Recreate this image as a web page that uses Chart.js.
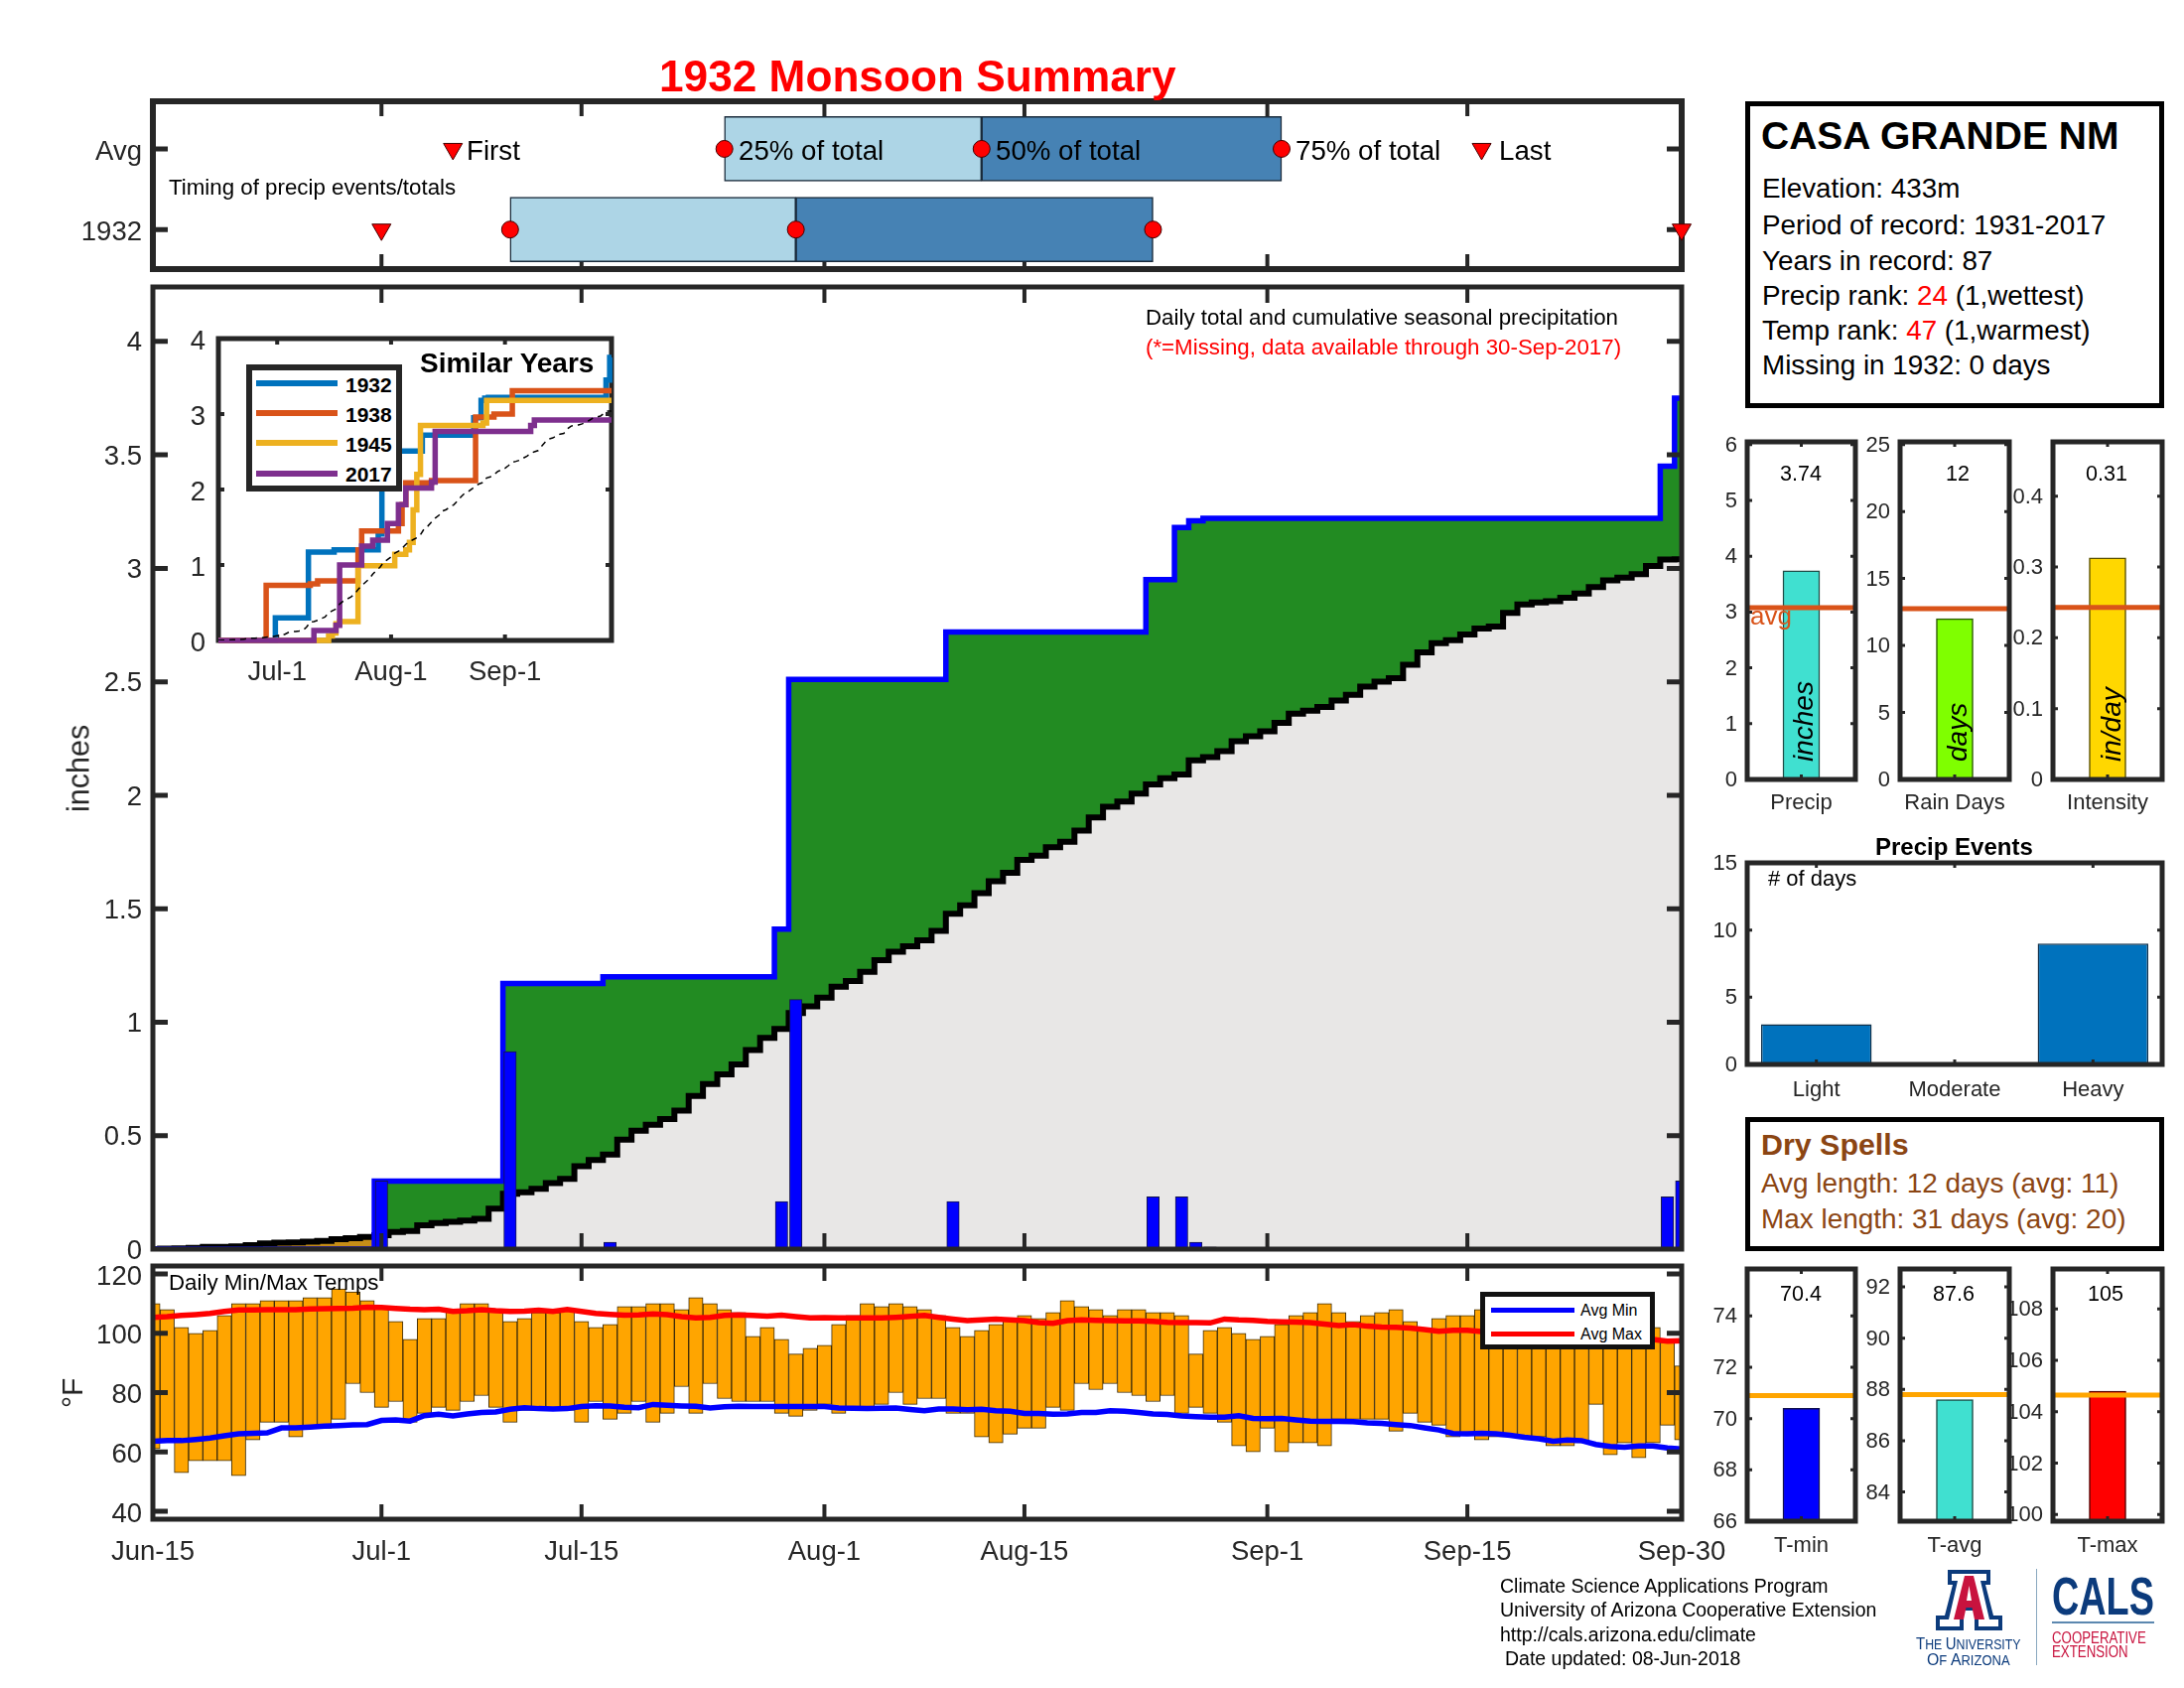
<!DOCTYPE html>
<html lang="en">
<head>
<meta charset="utf-8">
<title>1932 Monsoon Summary</title>
<script src="https://cdn.jsdelivr.net/npm/chart.js@4"></script>
<style>
  body { margin: 0; background: #fff; width: 2200px; height: 1700px; position: relative; overflow: hidden; font-family: "Liberation Sans", Arial, sans-serif; }
  canvas { position: absolute; }
  .txt { position: absolute; white-space: nowrap; transform: translateY(-50%); color: #000; }
  .frame { position: absolute; box-sizing: border-box; background: #fff; border: 5px solid #000; }
  .key { position: absolute; }
</style>
</head>
<body>
<script>
// day numbers count from Jun-15 = 0 to Sep-30 = 107
const tickDays = [0, 16, 30, 47, 61, 78, 92, 107];
const tickLabels = ['Jun-15', 'Jul-1', 'Jul-15', 'Aug-1', 'Aug-15', 'Sep-1', 'Sep-15', 'Sep-30'];

const rainDays = [16, 25, 32, 44, 45, 56, 70, 72, 73, 74, 106, 107];
const rainInches = [0.30, 0.87, 0.03, 0.21, 1.10, 0.21, 0.23, 0.23, 0.03, 0.01, 0.23, 0.30];

const avgCumulative = [0, 0.002, 0.003, 0.005, 0.01, 0.01, 0.012, 0.018, 0.025, 0.028, 0.03, 0.033, 0.036, 0.044, 0.048, 0.054,
  0.061, 0.076, 0.08, 0.105, 0.115, 0.12, 0.126, 0.134, 0.178, 0.244, 0.25, 0.266, 0.291, 0.31, 0.365, 0.393,
  0.417, 0.482, 0.522, 0.548, 0.573, 0.61, 0.675, 0.727, 0.77, 0.814, 0.877, 0.931, 0.97, 1.04, 1.07, 1.108,
  1.156, 1.181, 1.222, 1.273, 1.31, 1.335, 1.361, 1.402, 1.478, 1.515, 1.569, 1.621, 1.658, 1.715, 1.734, 1.771,
  1.795, 1.844, 1.902, 1.949, 1.972, 2.007, 2.048, 2.075, 2.092, 2.154, 2.168, 2.194, 2.238, 2.26, 2.282, 2.319,
  2.36, 2.373, 2.389, 2.417, 2.443, 2.479, 2.501, 2.516, 2.575, 2.63, 2.67, 2.683, 2.709, 2.735, 2.743, 2.804,
  2.841, 2.85, 2.855, 2.87, 2.889, 2.918, 2.947, 2.959, 2.974, 3.01, 3.039, 3.04];

const dailyMax = [110, 108, 102, 100, 101, 106, 110, 110, 111, 111, 111, 112, 112, 115, 114, 111, 109, 104, 98, 105, 105, 108,
  110, 110, 108, 104, 105, 107, 107, 108, 104, 102, 103, 109, 109, 110, 110, 108, 112, 110, 108, 107, 99, 102, 98, 93, 95, 96,
  103, 106, 110, 109, 110, 109, 108, 106, 102, 99, 101, 103, 105, 106, 105, 107, 111, 109, 108, 106, 108, 108, 107, 107, 106,
  93, 101, 102, 100, 98, 99, 103, 106, 107, 110, 107, 104, 106, 107, 108, 104, 101, 105, 106, 106, 108, 109, 105, 103, 104,
  102, 101, 100, 100, 99, 99, 101, 102, 97, 89];
const dailyMin = [61, 64, 53, 57, 57, 57, 52, 64, 70, 70, 65, 68, 68, 71, 83, 80, 75, 77, 70, 73, 75, 74, 77, 79, 75, 70, 74,
  74, 74, 74, 70, 77, 71, 73, 77, 70, 73, 82, 73, 83, 78, 77, 77, 77, 73, 72, 74, 76, 73, 75, 75, 76, 80, 76, 78, 78, 73, 73,
  65, 63, 66, 68, 68, 75, 74, 83, 81, 83, 80, 79, 77, 79, 73, 75, 73, 70, 62, 60, 68, 60, 63, 63, 62, 71, 71, 71, 71, 67, 73,
  70, 69, 65, 66, 64, 65, 65, 65, 65, 62, 62, 63, 76, 59, 63, 58, 63, 69, 64];
const avgMax = [105.4, 105.6, 106.0, 106.3, 106.7, 107.4, 107.9, 107.9, 108.0, 108.0, 108.0, 108.2, 108.3, 108.4, 108.5, 108.8,
  108.7, 108.4, 108.1, 108.0, 108.1, 107.4, 107.6, 108.0, 107.6, 107.4, 107.5, 107.8, 107.4, 108.0, 107.4, 106.7, 106.4, 106.1,
  106.2, 106.5, 106.3, 105.6, 105.2, 105.4, 106.0, 106.2, 106.0, 105.8, 106.1, 105.6, 105.2, 105.3, 105.2, 105.2, 105.2, 105.2,
  105.4, 105.7, 106.0, 105.4, 104.8, 104.3, 104.5, 104.8, 104.5, 104.3, 103.6, 103.4, 104.3, 104.5, 104.4, 104.3, 104.2, 104.2,
  104.0, 103.7, 103.6, 103.6, 103.5, 104.8, 104.5, 104.4, 104.0, 103.9, 103.8, 103.6, 103.1, 102.6, 102.9, 102.4, 102.1, 102.0,
  101.8, 101.3, 100.7, 101.0, 101.0, 100.6, 100.2, 100.0, 99.8, 99.6, 99.3, 99.1, 98.9, 98.7, 98.4, 98.2, 98.1, 97.9, 97.3, 97.5];
const avgMin = [63.6, 63.8, 63.8, 64.2, 64.7, 65.4, 66.1, 66.3, 66.4, 68.1, 68.1, 68.4, 68.7, 68.9, 69.1, 69.2, 70.6, 70.8, 70.4,
  72.2, 72.7, 72.1, 72.8, 73.3, 73.5, 74.4, 74.9, 74.6, 74.5, 74.6, 75.3, 75.6, 75.5, 75.1, 74.9, 76.0, 75.7, 75.5, 75.4, 74.8,
  75.2, 75.4, 75.3, 75.3, 75.3, 75.3, 75.3, 75.3, 74.8, 74.7, 74.6, 74.7, 74.8, 74.3, 73.9, 74.5, 74.5, 74.2, 74.4, 73.9, 73.7,
  73.0, 73.0, 72.7, 72.8, 73.3, 73.3, 73.9, 73.7, 73.3, 72.8, 72.6, 72.1, 71.9, 71.7, 71.7, 72.2, 71.3, 71.2, 71.3, 70.8, 70.4,
  70.3, 70.3, 70.2, 69.8, 69.6, 69.2, 68.9, 68.1, 67.4, 66.2, 66.1, 66.3, 66.1, 65.6, 64.9, 64.4, 63.6, 64.0, 63.8, 62.5, 61.8,
  61.6, 62.0, 62.0, 61.3, 61.0];

// similar years: day the total changed, and the total from that day on
const days1938 = [0, 13, 25, 27, 38, 39, 49, 50, 51, 58, 70, 75, 80, 107];
const vals1938 = [0, 0.73, 0.75, 0.79, 1.2, 1.45, 1.55, 1.8, 2.09, 2.12, 2.96, 3.0, 3.31, 3.31];
const days1945 = [0, 30, 31, 32, 33, 38, 48, 51, 52, 53, 54, 55, 72, 73, 107];
const vals1945 = [0, 0.06, 0.1, 0.22, 0.25, 0.99, 1.14, 1.2, 1.3, 1.73, 2.2, 2.85, 2.88, 3.18, 3.18];
const days2017 = [0, 26, 32, 33, 39, 42, 46, 49, 51, 58, 59, 85, 86, 107];
const vals2017 = [0, 0.13, 0.2, 1.0, 1.25, 1.33, 1.55, 1.8, 2.02, 2.1, 2.77, 2.85, 2.92, 2.92];
const insetTickDays = [16, 47, 78];
const insetTickLabels = ['Jul-1', 'Aug-1', 'Sep-1'];

// first event, 25%, 50%, 75%, last event
const timingAvg = [21, 40, 58, 79, 93];
const timing1932 = [16, 25, 45, 70, 107];

const precipTicks = [0, 0.5, 1, 1.5, 2, 2.5, 3, 3.5, 4];
const tempTicks = [40, 60, 80, 100, 120];
const eventNames = ['Light', 'Moderate', 'Heavy'];
const eventCounts = [3, 0, 9];

const INK = '#262626';
Chart.defaults.font.family = '"Liberation Sans", Arial, sans-serif';
Chart.defaults.color = INK;
Chart.defaults.animation = false;

// the spine and inward ticks on all four sides, the way the original plot has them
function drawBox(chart, o) {
  const a = chart.chartArea, ctx = chart.ctx;
  ctx.save();
  ctx.strokeStyle = o.color || INK;
  const xs = chart.scales.x, ys = chart.scales.y;
  ctx.lineWidth = o.xW;
  xs.ticks.forEach((t, i) => {
    const p = xs.getPixelForTick(i);
    if (p < a.left + 2 || p > a.right - 2) return;
    ctx.beginPath();
    ctx.moveTo(p, a.bottom); ctx.lineTo(p, a.bottom - o.xLen);
    ctx.moveTo(p, a.top); ctx.lineTo(p, a.top + o.xLen);
    ctx.stroke();
  });
  ctx.lineWidth = o.yW;
  ys.ticks.forEach((t, i) => {
    const p = ys.getPixelForTick(i);
    if (p < a.top + 2 || p > a.bottom - 2) return;
    ctx.beginPath();
    ctx.moveTo(a.left, p); ctx.lineTo(a.left + o.yLen, p);
    ctx.moveTo(a.right, p); ctx.lineTo(a.right - o.yLen, p);
    ctx.stroke();
  });
  ctx.lineWidth = o.lw;
  ctx.strokeRect(a.left, a.top, a.right - a.left, a.bottom - a.top);
  ctx.restore();
}
const boxPlugin = {
  id: 'box',
  // y labels sit a little under their tick in the original
  afterLayout(c, args, o) {
    const s = c.scales.y;
    if (!o.labelDy) return;
    s._labelItems = s._computeLabelItems(c.chartArea);
    s._labelItems.forEach(it => { it.options.translation[1] += o.labelDy; });
  },
  beforeDatasetsDraw(c, args, o) { if (o.under) drawBox(c, o); },
  afterDatasetsDraw(c, args, o) { if (!o.under) drawBox(c, o); }
};

function axis(kind, min, max, vals, labels, size, pad, fitSize, horizontal, extra) {
  const s = {
    type: kind, offset: kind === 'category',
    grid: { display: false, drawTicks: false },
    border: { display: false },
    ticks: {
      display: labels !== null, autoSkip: false, maxRotation: 0, minRotation: 0, padding: pad, color: INK,
      font: { size: size },
      callback: (v, i) => labels ? labels[i] : ''
    },
    afterFit(sc) {
      if (horizontal) sc.height = fitSize; else sc.width = fitSize;
      sc.paddingLeft = sc.paddingRight = sc.paddingTop = sc.paddingBottom = 0;
    }
  };
  if (kind !== 'category') {
    s.min = min; s.max = max;
    s.afterBuildTicks = sc => { sc.ticks = vals.map(v => ({ value: v })); };
  }
  return Object.assign(s, extra || {});
}

// chart with its plot area pinned to L,T,R,B on the page
function panel(L, T, R, B, mL, mB, xAxis, yAxis, datasets, box, labels) {
  const mT = 30, mR = 60;
  const cv = document.createElement('canvas');
  cv.width = R - L + mL + mR; cv.height = B - T + mT + mB;
  cv.style.left = (L - mL) + 'px'; cv.style.top = (T - mT) + 'px';
  document.body.appendChild(cv);
  return new Chart(cv, {
    type: 'bar',
    data: { labels: labels, datasets: datasets },
    options: {
      responsive: false, devicePixelRatio: 1, animation: false,
      layout: { padding: { left: 0, top: mT, right: mR, bottom: 0 } },
      scales: { x: xAxis, y: yAxis },
      plugins: { legend: { display: false }, tooltip: { enabled: false }, title: { display: false }, box: box }
    },
    plugins: [boxPlugin]
  });
}

function series(arr) { return arr.map((v, d) => ({ x: d, y: v })); }
function pairs(ds, vs) { return ds.map((d, i) => ({ x: d, y: vs[i] })); }

const rainByDay = new Array(108).fill(0);
rainDays.forEach((d, i) => { rainByDay[d] = rainInches[i]; });
let running = 0;
const cum1932 = rainByDay.map(v => (running += v));

const MAIN_L = 154, MAIN_R = 1694;
const TICK_SIZE = 27.5, SMALL_SIZE = 22;

// ---- timing strip
function rowPoints(arr, row, idx) { return idx.map(i => ({ x: arr[i], y: row })); }
const marker = (style, rot, r, pts) => ({
  type: 'scatter', data: pts, pointStyle: style, rotation: rot, pointRadius: r,
  backgroundColor: '#f00', borderColor: '#400', borderWidth: 1, clip: false, order: 1
});
panel(MAIN_L, 102, MAIN_R, 271, 130, 20,
  axis('linear', 0, 107, tickDays, null, 26, 0, 20, true),
  axis('linear', 0.41, 2.49, [1, 2], ['Avg', '1932'], TICK_SIZE, 11, 130, false, { reverse: true }),
  [
    { indexAxis: 'y', grouped: false, data: [{ y: 1, x: [timingAvg[1], timingAvg[2]] }, { y: 2, x: [timing1932[1], timing1932[2]] }],
      backgroundColor: '#ADD5E6', borderColor: '#1a2a3a', borderWidth: 1.5, borderSkipped: false, barThickness: 65, order: 3 },
    { indexAxis: 'y', grouped: false, data: [{ y: 1, x: [timingAvg[2], timingAvg[3]] }, { y: 2, x: [timing1932[2], timing1932[3]] }],
      backgroundColor: '#4682B4', borderColor: '#1a2a3a', borderWidth: 1.5, borderSkipped: false, barThickness: 65, order: 3 },
    marker('circle', 0, 8.5, rowPoints(timingAvg, 1, [1, 2, 3]).concat(rowPoints(timing1932, 2, [1, 2, 3]))),
    marker('triangle', 180, 11, rowPoints(timingAvg, 1, [0, 4]).concat(rowPoints(timing1932, 2, [0, 4])))
  ],
  { lw: 6, xLen: 15, xW: 4, yLen: 15, yW: 5, under: true, labelDy: 3 });

// ---- cumulative precipitation
panel(MAIN_L, 289, MAIN_R, 1258, 130, 20,
  axis('linear', 0, 107, tickDays, null, 26, 0, 20, true),
  axis('linear', 0, 4.24, precipTicks, precipTicks.map(String), TICK_SIZE, 11, 130, false),
  [
    { type: 'line', data: series(avgCumulative), stepped: 'middle', borderWidth: 0, pointRadius: 0, fill: 'origin', backgroundColor: '#E8E7E6', order: 9 },
    { type: 'line', data: series(cum1932), stepped: 'middle', borderWidth: 0, pointRadius: 0,
      fill: { target: 0, above: '#228B22', below: '#C68E17' }, order: 8 },
    { type: 'line', data: series(avgCumulative), stepped: 'middle', borderColor: '#000', borderWidth: 6, pointRadius: 0, fill: false, order: 7 },
    { type: 'line', data: series(cum1932), stepped: 'middle', borderColor: '#0000FF', borderWidth: 5.5, pointRadius: 0, fill: false, order: 6 },
    { data: pairs(rainDays, rainInches), backgroundColor: '#0000FF', borderColor: '#15154a', borderWidth: 1, borderSkipped: false, barThickness: 12.5, order: 5 }
  ],
  { lw: 5, xLen: 16, xW: 4, yLen: 15, yW: 5, labelDy: 2 });

// ---- daily temperatures
panel(MAIN_L, 1275, MAIN_R, 1530, 130, 70,
  axis('linear', 0, 107, tickDays, tickLabels, TICK_SIZE, 17, 70, true),
  axis('linear', 37.3, 122.7, tempTicks, tempTicks.map(String), TICK_SIZE, 11, 130, false),
  [
    { data: dailyMax.map((v, d) => ({ x: d, y: [dailyMin[d], v] })), backgroundColor: '#FFA500', borderColor: '#3d2c0a', borderWidth: 1,
      borderSkipped: false, barPercentage: 1, categoryPercentage: 1, order: 5 },
    { type: 'line', data: series(avgMin), borderColor: '#0000FF', borderWidth: 5.5, pointRadius: 0, tension: 0, fill: false, order: 2 },
    { type: 'line', data: series(avgMax), borderColor: '#FF0000', borderWidth: 5.5, pointRadius: 0, tension: 0, fill: false, order: 1 }
  ],
  { lw: 5, xLen: 15, xW: 4, yLen: 15, yW: 5, labelDy: 3 });

// ---- similar years inset
const insetLine = (data, color, stepped, order) => ({ type: 'line', data: data, stepped: stepped, borderColor: color, borderWidth: 5.5, pointRadius: 0, fill: false, order: order, clip: 3 });
panel(220, 341, 616, 645, 40, 60,
  axis('linear', 0, 107, insetTickDays, insetTickLabels, TICK_SIZE, 16, 60, true),
  axis('linear', 0, 4, [0, 1, 2, 3, 4], ['0', '1', '2', '3', '4'], TICK_SIZE, 13, 40, false),
  [
    { type: 'line', data: series(avgCumulative), borderColor: '#000', borderWidth: 1.5, borderDash: [6, 5], pointRadius: 0, fill: false, order: 1 },
    insetLine(series(cum1932), '#0072BD', 'middle', 5),
    insetLine(pairs(days1938, vals1938), '#D95319', 'before', 4),
    insetLine(pairs(days1945, vals1945), '#EDB120', 'before', 3),
    insetLine(pairs(days2017, vals2017), '#7E2F8E', 'before', 2)
  ],
  { lw: 5, xLen: 6, xW: 4, yLen: 6, yW: 4, labelDy: 3, under: true });

// ---- small bar panels with an average line
function smallBar(L, R, T, B, min, max, ticks, name, value, avg, fill, edge, avgColor, capPad) {
  panel(L, T, R, B, 60, 50,
    axis('linear', 0, 2, [1], [name], SMALL_SIZE, capPad, 50, true),
    axis('linear', min, max, ticks, ticks.map(String), SMALL_SIZE, 10, 60, false),
    [
      { data: [{ x: 1, y: value }], base: min, backgroundColor: fill, borderColor: edge, borderWidth: 1.5, borderSkipped: false, barThickness: 37, order: 2 },
      { type: 'line', data: [{ x: 0, y: avg }, { x: 2, y: avg }], borderColor: avgColor, borderWidth: 5, pointRadius: 0, fill: false, order: 1 }
    ],
    { lw: 5, xLen: 5, xW: 3, yLen: 5, yW: 3, labelDy: 1 });
}
const RUST = '#D95319', AMBER = '#FFA500';
smallBar(1760, 1869, 445, 785, 0, 6.05, [0, 1, 2, 3, 4, 5, 6], 'Precip', 3.74, 3.08, '#40E0D0', '#1d4d47', RUST, 11);
smallBar(1914, 2024, 445, 785, 0, 25.2, [0, 5, 10, 15, 20, 25], 'Rain Days', 12, 12.75, '#7FFF00', '#2a5a00', RUST, 11);
smallBar(2068, 2178, 445, 785, 0, 0.4766, [0, 0.1, 0.2, 0.3, 0.4], 'Intensity', 0.3127, 0.243, '#FFD700', '#5a5000', RUST, 11);
smallBar(1760, 1869, 1278, 1532, 66, 75.83, [66, 68, 70, 72, 74], 'T-min', 70.4, 70.9, '#0000FF', '#101050', AMBER, 12);
smallBar(1914, 2024, 1278, 1532, 82.86, 92.7, [84, 86, 88, 90, 92], 'T-avg', 87.6, 87.8, '#40E0D0', '#1d4d47', AMBER, 12);
smallBar(2068, 2178, 1278, 1532, 99.74, 109.56, [100, 102, 104, 106, 108], 'T-max', 104.8, 104.65, '#FF0000', '#500', AMBER, 12);

// ---- precip events
panel(1760, 869, 2178, 1072, 60, 50,
  axis('category', 0, 0, null, eventNames, SMALL_SIZE, 13, 50, true),
  axis('linear', 0, 15, [0, 5, 10, 15], ['0', '5', '10', '15'], SMALL_SIZE, 10, 60, false),
  [{ data: eventCounts, backgroundColor: '#0072BD', borderColor: '#10304a', borderWidth: 1.5, borderSkipped: false, barPercentage: 0.8, categoryPercentage: 1 }],
  { lw: 5, xLen: 5, xW: 3, yLen: 5, yW: 3, labelDy: 1 }, eventNames);

// ---- text and frames on top of the charts
function text(html, x, y, size, style) {
  const d = document.createElement('div');
  d.className = 'txt';
  d.innerHTML = html;
  d.style.left = x + 'px'; d.style.top = y + 'px'; d.style.fontSize = size + 'px';
  if (style) d.style.cssText += ';' + style;
  document.body.appendChild(d);
  return d;
}
function upText(html, x, y, size, style) {
  return text(html, x, y, size, 'transform-origin:0 50%;transform:translateY(-50%) rotate(-90deg);' + (style || ''));
}
function squeezed(html, x, y, size, sx, color, extra) {
  return text(html, x, y, size, 'transform-origin:0 50%;transform:translateY(-50%) scaleX(' + sx + ');color:' + color + ';' + (extra || ''));
}
function frame(L, T, R, B, width, color) {
  const d = document.createElement('div');
  d.className = 'frame';
  d.style.cssText = 'left:' + L + 'px;top:' + T + 'px;width:' + (R - L) + 'px;height:' + (B - T) + 'px;border-width:' + width + 'px;border-color:' + color;
  document.body.appendChild(d);
}
function keyLine(L, R, y, h, color) {
  const d = document.createElement('div');
  d.className = 'key';
  d.style.cssText = 'left:' + L + 'px;top:' + (y - h / 2) + 'px;width:' + (R - L) + 'px;height:' + h + 'px;background:' + color;
  document.body.appendChild(d);
}

text('1932 Monsoon Summary', 664, 77, 44.2, 'font-weight:bold;color:#f00');
text('First', 470, 152, 27.7);
text('25% of total', 744, 152, 27.7);
text('50% of total', 1003, 152, 27.7);
text('75% of total', 1305, 152, 27.7);
text('Last', 1510, 152, 27.7);
text('Timing of precip events/totals', 170, 189, 22.3);
text('Daily total and cumulative seasonal precipitation', 1154, 320, 22.3);
text('(*=Missing, data available through 30-Sep-2017)', 1154, 350, 22.3, 'color:#f00');
text('Daily Min/Max Temps', 170, 1292, 22.3);
upText('inches', 79, 818, 30.5, 'color:#262626');
upText('°F', 73, 1418, 30, 'color:#262626');

frame(1758, 102, 2180, 411, 5, '#000');
text('CASA GRANDE NM', 1774, 137, 39, 'font-weight:bold');
text('Elevation: 433m', 1775, 190, 27.8);
text('Period of record: 1931-2017', 1775, 227, 27.8);
text('Years in record: 87', 1775, 263, 27.8);
text('Precip rank: <span style="color:#f00">24</span> (1,wettest)', 1775, 298, 27.8);
text('Temp rank: <span style="color:#f00">47</span> (1,warmest)', 1775, 333, 27.8);
text('Missing in 1932: 0 days', 1775, 368, 27.8);

frame(1758, 1125, 2180, 1260, 5, '#000');
text('Dry Spells', 1774, 1152, 30.4, 'font-weight:bold;color:#8B4513');
text('Avg length: 12 days (avg: 11)', 1774, 1192, 27.9, 'color:#8B4513');
text('Max length: 31 days (avg: 20)', 1774, 1228, 27.9, 'color:#8B4513');

// legends
frame(1491, 1301, 1667, 1359, 5, '#111');
keyLine(1502, 1586, 1319, 5, '#0000FF');
keyLine(1502, 1586, 1343, 5, '#FF0000');
text('Avg Min', 1592, 1320, 16);
text('Avg Max', 1592, 1344, 16);

frame(248, 367, 405, 495, 6, INK);
keyLine(258, 340, 386, 6, '#0072BD');
keyLine(258, 340, 416, 6, '#D95319');
keyLine(258, 340, 446, 6, '#EDB120');
keyLine(258, 340, 477, 6, '#7E2F8E');
text('1932', 348, 388, 21, 'font-weight:bold');
text('1938', 348, 418, 21, 'font-weight:bold');
text('1945', 348, 448, 21, 'font-weight:bold');
text('2017', 348, 478, 21, 'font-weight:bold');
text('Similar Years', 423, 366, 28, 'font-weight:bold');

// small panel captions
text('3.74', 1793, 477, 21.5);
text('12', 1960, 477, 21.5);
text('0.31', 2101, 477, 21.5);
text('avg', 1763, 620, 26, 'color:#D95319');
upText('inches', 1817, 767, 28, 'font-style:italic');
upText('days', 1972, 767, 28, 'font-style:italic');
upText('in/day', 2127, 767, 28, 'font-style:italic');
text('Precip Events', 1889, 853, 24, 'font-weight:bold');
text('# of days', 1781, 885, 22);
text('70.4', 1793, 1303, 21.5);
text('87.6', 1947, 1303, 21.5);
text('105', 2103, 1303, 21.5);

// footer
text('Climate Science Applications Program', 1511, 1597, 19.5);
text('University of Arizona Cooperative Extension', 1511, 1621, 19.5);
text('http://cals.arizona.edu/climate', 1511, 1646, 19.5);
text('Date updated: 08-Jun-2018', 1516, 1670, 19.5);

// logos
const NAVY = '#0C3B7C', CRIM = '#C8133E';
const logo = document.createElement('div');
logo.innerHTML = '<svg style="position:absolute;left:1950px;top:1581px" width="67" height="61" viewBox="0 0 67 61">' +
  '<polygon fill="' + NAVY + '" points="12,0 55,0 55,15 50,15 58,46 67,46 67,61 39,61 39,46 43,46 42,41 25,41 24,46 28,46 28,61 0,61 0,46 9,46 17,15 12,15"/>' +
  '<polygon fill="#fff" points="16,4 51,4 51,11 45,11 54,50 63,50 63,57 43,57 43,50 47,50 45,37 22,37 20,50 24,50 24,57 4,57 4,50 13,50 22,11 16,11"/>' +
  '<polygon fill="' + CRIM + '" fill-rule="evenodd" points="29,6 38,6 49,50 39,50 36.5,38 30.5,38 28,50 18,50 29,6 33.5,16 31,31 36,31 33.5,16"/></svg>';
document.body.appendChild(logo);
keyLine(2050.5, 2052, 1628.5, 97, '#8AA8C0');
keyLine(2067, 2170, 1634, 1.5, '#5C88B0');
squeezed('CALS', 2067, 1607, 54, 0.7, NAVY, 'font-weight:bold');
squeezed('COOPERATIVE', 2067, 1650, 17, 0.78, CRIM);
squeezed('EXTENSION', 2067, 1664, 17, 0.78, CRIM);
squeezed('<span style="font-size:17px">T</span>HE <span style="font-size:17px">U</span>NIVERSITY', 1930, 1656, 14, 0.88, NAVY);
squeezed('<span style="font-size:17px">O</span>F <span style="font-size:17px">A</span>RIZONA', 1941, 1672, 14, 0.93, NAVY);
</script>
</body>
</html>
